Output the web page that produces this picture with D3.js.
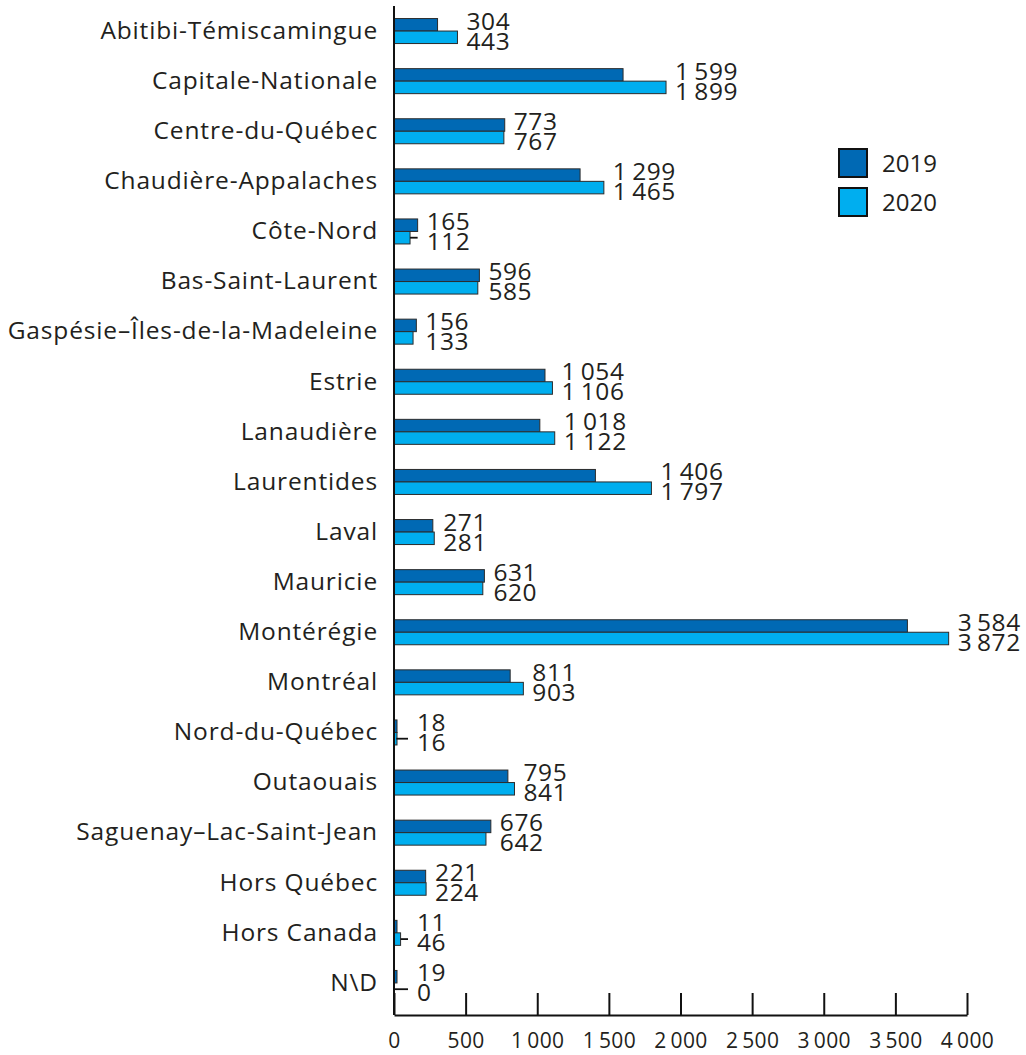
<!DOCTYPE html>
<html>
<head>
<meta charset="utf-8">
<script src="https://cdn.jsdelivr.net/npm/d3@7"></script>
<style>
  html, body { margin: 0; padding: 0; background: #fff; }
  svg { display: block; }
  text { font-family: "Open Sans", "Noto Sans", sans-serif; fill: #231f20; }
</style>
</head>
<body>
<svg id="chart" width="1026" height="1055"></svg>
<script>
const categories = [
  "Abitibi-Témiscamingue", "Capitale-Nationale", "Centre-du-Québec",
  "Chaudière-Appalaches", "Côte-Nord", "Bas-Saint-Laurent",
  "Gaspésie–Îles-de-la-Madeleine", "Estrie", "Lanaudière", "Laurentides",
  "Laval", "Mauricie", "Montérégie", "Montréal", "Nord-du-Québec",
  "Outaouais", "Saguenay–Lac-Saint-Jean", "Hors Québec", "Hors Canada", "N\\D"
];
const values2019 = [304, 1599, 773, 1299, 165, 596, 156, 1054, 1018, 1406, 271, 631, 3584, 811, 18, 795, 676, 221, 11, 19];
const values2020 = [443, 1899, 767, 1465, 112, 585, 133, 1106, 1122, 1797, 281, 620, 3872, 903, 16, 841, 642, 224, 46, 0];
const seriesNames = ["2019", "2020"];
const seriesColors = ["#0069b4", "#00aeef"];
const xTicks = [0, 500, 1000, 1500, 2000, 2500, 3000, 3500, 4000];

const FONT = "'Open Sans', 'Noto Sans', sans-serif";
const fmt = v => {
  const s = String(v);
  return s.length > 3 ? s.slice(0, s.length - 3) + "\u2009" + s.slice(-3) : s;
};

const svg = d3.select("#chart");
const x = d3.scaleLinear().domain([0, 4000]).range([394, 967]);
const y = d3.scaleBand().domain(categories).range([6, 1008]).padding(0);
const barH = 12.5;
const axisY = 1015;

const rows = categories.map((c, i) => ({ cat: c, v: [values2019[i], values2020[i]] }));

// bars and value labels
const g = svg.append("g");
rows.forEach(r => {
  const c = y(r.cat) + y.bandwidth() / 2;
  r.v.forEach((v, k) => {
    if (v <= 0) return;
    g.append("rect")
      .attr("x", x(0))
      .attr("y", k === 0 ? c - barH : c)
      .attr("width", Math.max(3, x(v) - x(0)))
      .attr("height", barH)
      .attr("fill", seriesColors[k])
      .attr("stroke", "#2b2b2b")
      .attr("stroke-width", 1);
  });
  const labelX = Math.max(417, Math.max(x(r.v[0]), x(r.v[1])) + 9);
  if (labelX - x(r.v[1]) > 14) {
    g.append("line")
      .attr("x1", x(r.v[1])).attr("x2", labelX - 9)
      .attr("y1", c + barH / 2).attr("y2", c + barH / 2)
      .attr("stroke", "#111").attr("stroke-width", 1.8);
  }
  g.append("text").attr("x", labelX).attr("y", c - 1.5)
    .attr("font-size", 24.5).attr("letter-spacing", 0.6).text(fmt(r.v[0]));
  g.append("text").attr("x", labelX).attr("y", c + 18.5)
    .attr("font-size", 24.5).attr("letter-spacing", 0.6).text(fmt(r.v[1]));
});

// y axis
const yAxis = svg.append("g").attr("transform", `translate(${x(0)},0)`)
  .call(d3.axisLeft(y).tickSize(0).tickPadding(16));
yAxis.select(".domain").remove();
yAxis.selectAll("text").attr("font-size", 24.5).attr("letter-spacing", 0.85)
  .attr("font-family", FONT).attr("fill", "#231f20");
svg.append("line").attr("x1", x(0)).attr("x2", x(0)).attr("y1", 6).attr("y2", axisY)
  .attr("stroke", "#111").attr("stroke-width", 2);

// x axis
const xAxis = svg.append("g").attr("transform", `translate(0,${axisY})`)
  .call(d3.axisBottom(x).tickValues(xTicks).tickSizeInner(-22).tickSizeOuter(0).tickPadding(18).tickFormat(fmt));
xAxis.select(".domain").attr("stroke", "#111").attr("stroke-width", 2);
xAxis.selectAll(".tick line").attr("stroke", "#111").attr("stroke-width", 2);
xAxis.selectAll("text").attr("font-size", 21).attr("letter-spacing", 0.4)
  .attr("font-family", FONT).attr("fill", "#231f20");

// legend
const leg = svg.append("g");
seriesNames.forEach((s, k) => {
  const ly = 149 + k * 39;
  leg.append("rect").attr("x", 839).attr("y", ly).attr("width", 28).attr("height", 28)
    .attr("fill", seriesColors[k]).attr("stroke", "#111").attr("stroke-width", 2);
  leg.append("text").attr("x", 882).attr("y", ly + 23).attr("font-size", 24).text(s);
});
</script>
</body>
</html>
